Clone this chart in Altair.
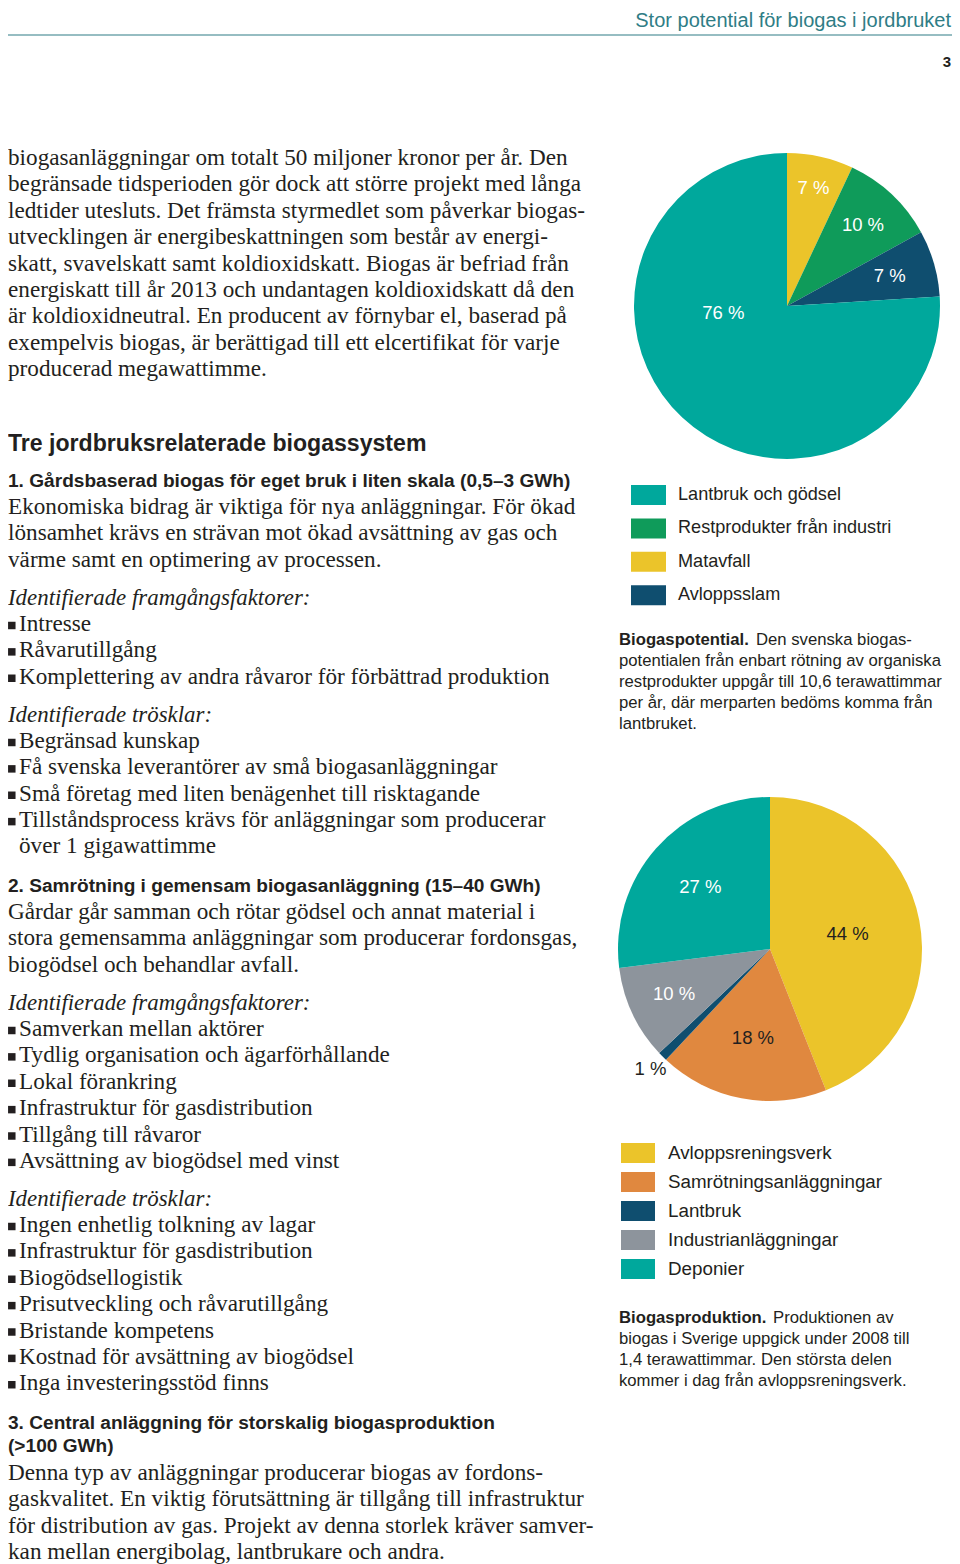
import altair as alt
import pandas as pd
import math

# ---------------- data ----------------
pot_categories = ["Matavfall", "Restprodukter från industri", "Avloppsslam", "Lantbruk och gödsel"]
pot_values = [7, 10, 7, 76]
pot_legend_order = ["Lantbruk och gödsel", "Restprodukter från industri", "Matavfall", "Avloppsslam"]

prod_categories = ["Avloppsreningsverk", "Samrötningsanläggningar", "Lantbruk", "Industrianläggningar", "Deponier"]
prod_values = [44, 18, 1, 10, 27]
prod_legend_order = ["Avloppsreningsverk", "Samrötningsanläggningar", "Lantbruk", "Industrianläggningar", "Deponier"]

# ---------------- styles ----------------
TEAL = "#00a89c"
GREEN = "#0f9b5a"
YELLOW = "#ebc42a"
NAVY = "#0f4e6f"
ORANGE = "#e0883f"
GRAY = "#8d949c"
HEAD = "#2f7d86"
INK = "#231f20"
pot_colors = {"Matavfall": YELLOW, "Restprodukter från industri": GREEN,
              "Avloppsslam": NAVY, "Lantbruk och gödsel": TEAL}
prod_colors = {"Avloppsreningsverk": YELLOW, "Samrötningsanläggningar": ORANGE,
               "Lantbruk": NAVY, "Industrianläggningar": GRAY, "Deponier": TEAL}

SERIF = "Liberation Serif"
SANS = "Liberation Sans"
OFF = 8  # page margin


def P(v):
    return v - OFF


# ---------------- text content ----------------
para0 = [
    "biogasanläggningar om totalt 50 miljoner kronor per år. Den",
    "begränsade tidsperioden gör dock att större projekt med långa",
    "ledtider utesluts. Det främsta styrmedlet som påverkar biogas-",
    "utvecklingen är energibeskattningen som består av energi-",
    "skatt, svavelskatt samt koldioxidskatt. Biogas är befriad från",
    "energiskatt till år 2013 och undantagen koldioxidskatt då den",
    "är koldioxidneutral. En producent av förnybar el, baserad på",
    "exempelvis biogas, är berättigad till ett elcertifikat för varje",
    "producerad megawattimme.",
]
sec1_body = [
    "Ekonomiska bidrag är viktiga för nya anläggningar. För ökad",
    "lönsamhet krävs en strävan mot ökad avsättning av gas och",
    "värme samt en optimering av processen.",
]
sec1_succ = ["Intresse", "Råvarutillgång", "Komplettering av andra råvaror för förbättrad produktion"]
sec1_thr = ["Begränsad kunskap", "Få svenska leverantörer av små biogasanläggningar",
            "Små företag med liten benägenhet till risktagande",
            "Tillståndsprocess krävs för anläggningar som producerar"]
sec1_cont = ["över 1 gigawattimme"]
sec2_body = [
    "Gårdar går samman och rötar gödsel och annat material i",
    "stora gemensamma anläggningar som producerar fordonsgas,",
    "biogödsel och behandlar avfall.",
]
sec2_succ = ["Samverkan mellan aktörer", "Tydlig organisation och ägarförhållande", "Lokal förankring",
             "Infrastruktur för gasdistribution", "Tillgång till råvaror", "Avsättning av biogödsel med vinst"]
sec2_thr = ["Ingen enhetlig tolkning av lagar", "Infrastruktur för gasdistribution", "Biogödsellogistik",
            "Prisutveckling och råvarutillgång", "Bristande kompetens",
            "Kostnad för avsättning av biogödsel", "Inga investeringsstöd finns"]
sec3_body = [
    "Denna typ av anläggningar producerar biogas av fordons-",
    "gaskvalitet. En viktig förutsättning är tillgång till infrastruktur",
    "för distribution av gas. Projekt av denna storlek kräver samver-",
    "kan mellan energibolag, lantbrukare och andra.",
]
cap1_bold = "Biogaspotential."
cap1 = ["Den svenska biogas-", "potentialen från enbart rötning av organiska",
        "restprodukter uppgår till 10,6 terawattimmar",
        "per år, där merparten bedöms komma från", "lantbruket."]
cap2_bold = "Biogasproduktion."
cap2 = ["Produktionen av", "biogas i Sverige uppgick under 2008 till",
        "1,4 terawattimmar. Den största delen", "kommer i dag från avloppsreningsverk."]

LS = 26.375  # serif line spacing
LX = 8       # left column x (page)
BX = 19      # bulleted text x

rows = []   # x, y, text, style
bullets = []


def block(style, x, y0, lines, step=LS, bullet=False):
    for i, t in enumerate(lines):
        y = y0 + i * step
        rows.append(dict(x=P(x), y=P(y), text=t, style=style))
        if bullet:
            bullets.append(dict(x=P(11.8), y=P(y + 1.5)))


block("header", 951, 21, ["Stor potential för biogas i jordbruket"])
block("pagenum", 951, 62, ["3"])
block("body", LX, 158, para0)
block("h1", LX, 444, ["Tre jordbruksrelaterade biogassystem"])
block("h2", LX, 481, ["1. Gårdsbaserad biogas för eget bruk i liten skala (0,5–3 GWh)"])
block("body", LX, 507, sec1_body)
block("ital", LX, 598, ["Identifierade framgångsfaktorer:"])
block("body", BX, 624, sec1_succ, bullet=True)
block("ital", LX, 715, ["Identifierade trösklar:"])
block("body", BX, 741, sec1_thr, bullet=True)
block("body", BX, 846, sec1_cont)
block("h2", LX, 886, ["2. Samrötning i gemensam biogasanläggning (15–40 GWh)"])
block("body", LX, 912, sec2_body)
block("ital", LX, 1003, ["Identifierade framgångsfaktorer:"])
block("body", BX, 1029, sec2_succ, bullet=True)
block("ital", LX, 1199, ["Identifierade trösklar:"])
block("body", BX, 1225, sec2_thr, bullet=True)
block("h2", LX, 1423, ["3. Central anläggning för storskalig biogasproduktion", "(>100 GWh)"], step=23)
block("body", LX, 1473, sec3_body)
block("capb", 619, 640, [cap1_bold])
block("cap", 756, 640, cap1[:1])
block("cap", 619, 661, cap1[1:], step=21)
block("capb", 619, 1318, [cap2_bold])
block("cap", 773, 1318, cap2[:1])
block("cap", 619, 1339, cap2[1:], step=21)

text_df = pd.DataFrame(rows)

styles = {
    "header": dict(font=SANS, fontSize=20, color=HEAD, align="right"),
    "pagenum": dict(font=SANS, fontSize=15, fontWeight="bold", color=INK, align="right"),
    "body": dict(font=SERIF, fontSize=23.2, color=INK, align="left"),
    "ital": dict(font=SERIF, fontSize=22.9, fontStyle="italic", color=INK, align="left"),
    "h1": dict(font=SANS, fontSize=23.1, fontWeight="bold", color=INK, align="left"),
    "h2": dict(font=SANS, fontSize=19.1, fontWeight="bold", color=INK, align="left"),
    "cap": dict(font=SANS, fontSize=16.7, color=INK, align="left"),
    "capb": dict(font=SANS, fontSize=16.7, fontWeight="bold", color=INK, align="left"),
    "leg1": dict(font=SANS, fontSize=18.1, color=INK, align="left"),
    "leg2": dict(font=SANS, fontSize=18.8, color=INK, align="left"),
}

XP = dict(scale=None, axis=None)

layers = []

# header rule
layers.append(alt.Chart(pd.DataFrame({"a": [0]})).mark_rule(color=HEAD, strokeWidth=1.2).encode(
    x=alt.value(P(8)), x2=alt.value(P(952)), y=alt.value(P(35))))

for st, kw in styles.items():
    sub = text_df[text_df["style"] == st]
    if len(sub) == 0:
        continue
    layers.append(alt.Chart(sub).mark_text(baseline="middle", **kw).encode(
        x=alt.X("x:Q", **XP), y=alt.Y("y:Q", **XP), text="text:N"))

layers.append(alt.Chart(pd.DataFrame(bullets)).mark_square(
    size=56, color=INK, opacity=1, filled=True).encode(
    x=alt.X("x:Q", **XP), y=alt.Y("y:Q", **XP)))


# ---------------- pies ----------------
def pie(cats, vals, colors, cx, cy, r, label_r, label_color, angle_override):
    df = pd.DataFrame({"cat": cats, "value": vals, "idx": list(range(len(cats)))})
    arc = alt.Chart(df).mark_arc(radius=r).encode(
        theta=alt.Theta("value:Q", stack=True),
        order=alt.Order("idx:Q"),
        color=alt.Color("cat:N", scale=alt.Scale(domain=cats, range=[colors[c] for c in cats]), legend=None),
        x=alt.value(P(cx)), y=alt.value(P(cy)),
    )
    # label positions: mid-angle of each slice, derived from the data
    total = sum(vals)
    cum = 0
    lab = []
    for i, (c, v) in enumerate(zip(cats, vals)):
        mid = (cum + v / 2) / total * 360
        cum += v
        ang = angle_override.get(i, mid)
        rr = label_r[i]
        lab.append(dict(x=P(cx + rr * math.sin(math.radians(ang))),
                        y=P(cy - rr * math.cos(math.radians(ang))),
                        text=f"{v} %", col=label_color[i]))
    ldf = pd.DataFrame(lab)
    txt = alt.Chart(ldf).mark_text(font=SANS, fontSize=18.5, align="center", baseline="middle").encode(
        x=alt.X("x:Q", **XP), y=alt.Y("y:Q", **XP), text="text:N",
        color=alt.Color("col:N", scale=None))
    return [arc, txt]


layers += pie(pot_categories, pot_values, pot_colors, 787, 306, 153,
              [121, 111, 107, 64], ["white"] * 4, {3: 264})
layers += pie(prod_categories, prod_values, prod_colors, 770, 949, 152,
              [79, 91, 169, 106, 93], [INK, INK, INK, "white", "white"], {})


# ---------------- legends ----------------
def legend(cats, colors, x0, x1, xt, y0, step, h, st):
    df = pd.DataFrame({"cat": cats, "i": list(range(len(cats)))})
    df["yc"] = P(y0) + df["i"] * step
    df["ya"] = df["yc"] - h / 2
    df["yb"] = df["yc"] + h / 2
    df["xa"] = P(x0)
    df["xb"] = P(x1)
    df["xt"] = P(xt)
    sw = alt.Chart(df).mark_rect().encode(
        x=alt.X("xa:Q", **XP), x2="xb:Q", y=alt.Y("ya:Q", **XP), y2="yb:Q",
        color=alt.Color("cat:N", scale=alt.Scale(domain=cats, range=[colors[c] for c in cats]), legend=None))
    tx = alt.Chart(df).mark_text(baseline="middle", **styles[st]).encode(
        x=alt.X("xt:Q", **XP), y=alt.Y("yc:Q", **XP), text="cat:N")
    return [sw, tx]


layers += legend(pot_legend_order, pot_colors, 631, 666, 678, 495, 33.4, 20, "leg1")
layers += legend(prod_legend_order, prod_colors, 621, 655, 668, 1153, 29, 20, "leg2")

chart = alt.layer(*layers).resolve_scale(color="independent", theta="independent").properties(
    width=944, height=1556, padding=0, autosize=alt.AutoSizeParams(type="none"),
    background="white").configure_view(stroke=None)

chart.save("out.html", embed_options={"renderer": "svg", "actions": False})
